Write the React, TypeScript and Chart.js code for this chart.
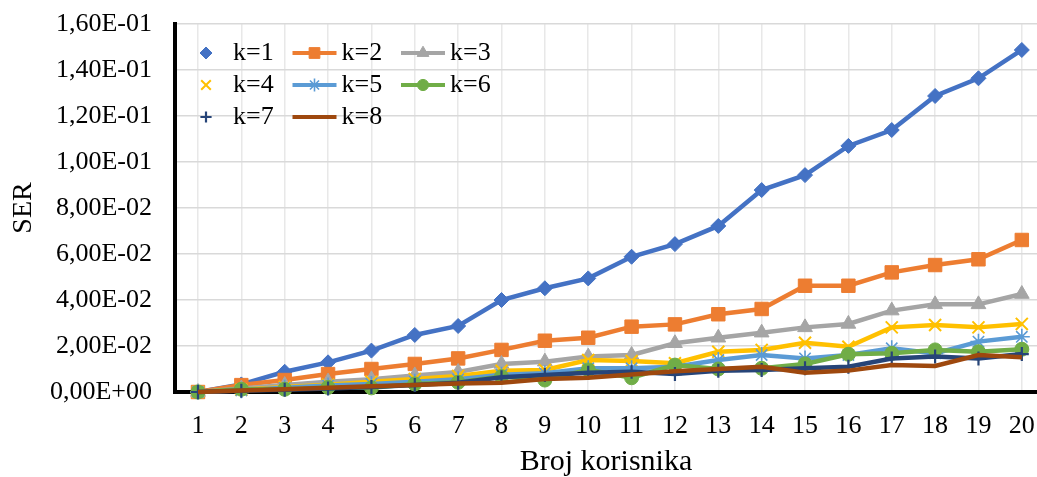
import React, { useEffect, useRef } from 'react';
import { Chart, registerables } from 'chart.js';
import { drawPoint } from 'chart.js/helpers';

Chart.register(...registerables);

const users = [1, 2, 3, 4, 5, 6, 7, 8, 9, 10, 11, 12, 13, 14, 15, 16, 17, 18, 19, 20];

const k1 = [0, 0.0033, 0.0088, 0.0129, 0.018, 0.0248, 0.0287, 0.04, 0.0451, 0.0494, 0.0588, 0.0643, 0.0722, 0.0878, 0.0943, 0.107, 0.1139, 0.1287, 0.1364, 0.1487];
const k2 = [0, 0.003, 0.0052, 0.0078, 0.01, 0.0122, 0.0146, 0.0183, 0.0223, 0.0236, 0.0284, 0.0294, 0.0338, 0.0361, 0.0462, 0.0462, 0.052, 0.0552, 0.0577, 0.0661];
const k3 = [0, 0.0015, 0.003, 0.0045, 0.0055, 0.0072, 0.0087, 0.0122, 0.0132, 0.0154, 0.0161, 0.0212, 0.0236, 0.0258, 0.0281, 0.0296, 0.0354, 0.0381, 0.0381, 0.0426];
const k4 = [0, 0.001, 0.0022, 0.0032, 0.0045, 0.0057, 0.007, 0.0092, 0.0096, 0.0139, 0.0135, 0.0125, 0.0175, 0.0183, 0.0214, 0.0197, 0.0281, 0.0291, 0.0281, 0.0296];
const k5 = [0, 0.0008, 0.0018, 0.0028, 0.0035, 0.0045, 0.0055, 0.0075, 0.0082, 0.0103, 0.0103, 0.011, 0.0139, 0.0161, 0.0146, 0.0161, 0.019, 0.0168, 0.0219, 0.024];
const k6 = [0, 0.0012, 0.0012, 0.002, 0.0018, 0.0035, 0.0042, 0.0067, 0.0052, 0.0096, 0.0062, 0.0117, 0.01, 0.0103, 0.0122, 0.0164, 0.0168, 0.0183, 0.0175, 0.0186];
const k7 = [0, 0.0005, 0.001, 0.0015, 0.0022, 0.003, 0.004, 0.0064, 0.0074, 0.0084, 0.0088, 0.0078, 0.0092, 0.0096, 0.0103, 0.011, 0.0146, 0.0154, 0.0146, 0.0165];
const k8 = [0, 0.0006, 0.0012, 0.0018, 0.0025, 0.003, 0.0037, 0.004, 0.0056, 0.0062, 0.0076, 0.009, 0.01, 0.011, 0.0084, 0.0093, 0.0117, 0.0113, 0.0161, 0.0151];

const seriesValues = [k1, k2, k3, k4, k5, k6, k7, k8];
const seriesLabels = ['k=1', 'k=2', 'k=3', 'k=4', 'k=5', 'k=6', 'k=7', 'k=8'];
const seriesColors = ['#4472C4', '#ED7D31', '#A5A5A5', '#FFC000', '#5B9BD5', '#70AD47', '#264478', '#9E480E'];
const pointStyles: any[] = ['rectRot', 'rect', 'triangle', 'crossRot', 'star', 'circle', 'cross', false];
const pointRadii = [7.5, 9.5, 8.5, 8.5, 8, 7, 7, 0];
const pointBorders = [1, 1, 1, 2, 1.6, 1, 2.2, 0];
const legendShowLine = [false, true, true, false, true, true, false, true];

const yTickValues = [0, 0.02, 0.04, 0.06, 0.08, 0.1, 0.12, 0.14, 0.16];
const yTickLabels = ['0,00E+00', '2,00E-02', '4,00E-02', '6,00E-02', '8,00E-02', '1,00E-01', '1,20E-01', '1,40E-01', '1,60E-01'];
const xAxisTitle = 'Broj korisnika';
const yAxisTitle = 'SER';

const FONT = '"Liberation Serif", "Times New Roman", serif';

const legendPlugin = {
  id: 'excelLegend',
  afterDraw(chart: any) {
    const ctx = chart.ctx;
    const area = chart.chartArea;
    const x0 = area.left + 9;
    const y0 = area.top + 29;
    const colW = 108.5;
    const rowH = 32;
    const sampleW = 44;
    chart.data.datasets.forEach((ds: any, i: number) => {
      const col = i % 3;
      const row = Math.floor(i / 3);
      const sx = x0 + col * colW;
      const cy = y0 + row * rowH;
      ctx.save();
      if (legendShowLine[i]) {
        ctx.strokeStyle = ds.borderColor;
        ctx.lineWidth = 4;
        ctx.lineCap = 'butt';
        ctx.beginPath();
        ctx.moveTo(sx, cy);
        ctx.lineTo(sx + sampleW, cy);
        ctx.stroke();
      }
      if (pointStyles[i]) {
        ctx.fillStyle = ds.borderColor;
        ctx.strokeStyle = ds.borderColor;
        ctx.lineWidth = pointBorders[i];
        drawPoint(ctx, { pointStyle: pointStyles[i], rotation: 0, radius: pointRadii[i] * 0.8, borderWidth: pointBorders[i] }, sx + sampleW / 2, cy);
      }
      ctx.fillStyle = '#000';
      ctx.font = '26px ' + FONT;
      ctx.textBaseline = 'middle';
      ctx.textAlign = 'left';
      ctx.fillText(ds.label, sx + sampleW + 5, cy);
      ctx.restore();
    });
  },
};

export default function App() {
  const canvasRef = useRef<HTMLCanvasElement | null>(null);

  useEffect(() => {
    document.body.style.margin = '0';
    const canvas = canvasRef.current;
    if (!canvas) return;
    const datasets = seriesValues.map((vals, i) => ({
      label: seriesLabels[i],
      data: vals.map((v, j) => ({ x: users[j], y: v })),
      borderColor: seriesColors[i],
      backgroundColor: seriesColors[i],
      pointBackgroundColor: seriesColors[i],
      pointBorderColor: seriesColors[i],
      borderWidth: 4.5,
      pointStyle: pointStyles[i],
      pointRadius: pointRadii[i],
      pointBorderWidth: pointBorders[i],
      tension: 0,
      clip: 12,
      order: 8 - i,
    }));
    const chart = new Chart(canvas, {
      type: 'line',
      data: { datasets },
      plugins: [legendPlugin],
      options: {
        animation: false,
        responsive: false,
        devicePixelRatio: 1,
        layout: { autoPadding: false, padding: { top: 24, right: 0, left: 0, bottom: 0 } },
        plugins: { legend: { display: false }, tooltip: { enabled: false } },
        scales: {
          x: {
            type: 'linear',
            min: 0.47,
            max: 20.35,
            afterBuildTicks: (s: any) => {
              s.ticks = users.map((v) => ({ value: v }));
            },
            afterFit: (s: any) => {
              s.height = 85;
              s.paddingLeft = 0;
              s.paddingRight = 0;
            },
            grid: { color: '#e8e8e8', lineWidth: 1.5, drawTicks: false },
            border: { display: true, color: '#000', width: 4 },
            ticks: {
              color: '#000',
              font: { family: FONT, size: 26 },
              padding: 19,
              maxRotation: 0,
              autoSkip: false,
              callback: (v: any) => String(v),
            },
            title: {
              display: true,
              text: xAxisTitle,
              color: '#000',
              font: { family: FONT, size: 30, lineHeight: 1 },
              padding: { top: 0, bottom: 0 },
            },
          },
          y: {
            type: 'linear',
            min: 0,
            max: 0.16,
            afterBuildTicks: (s: any) => {
              s.ticks = yTickValues.map((v) => ({ value: v }));
            },
            afterFit: (s: any) => {
              s.width = 175;
              s.paddingTop = 0;
              s.paddingBottom = 0;
            },
            grid: { color: '#d9d9d9', lineWidth: 1.5, drawTicks: false },
            border: { display: true, color: '#000', width: 4 },
            ticks: {
              color: '#000',
              font: { family: FONT, size: 26 },
              padding: 23,
              callback: (_v: any, i: number) => yTickLabels[i],
            },
            title: {
              display: true,
              text: yAxisTitle,
              color: '#000',
              font: { family: FONT, size: 28, lineHeight: 1 },
              padding: { top: 10, bottom: 0 },
            },
          },
        },
      },
    } as any);
    return () => chart.destroy();
  }, []);

  return (
    <div style={{ position: 'absolute', left: 0, top: 0, width: 1037, height: 477 }}>
      <canvas ref={canvasRef} width={1037} height={477} />
    </div>
  );
}
